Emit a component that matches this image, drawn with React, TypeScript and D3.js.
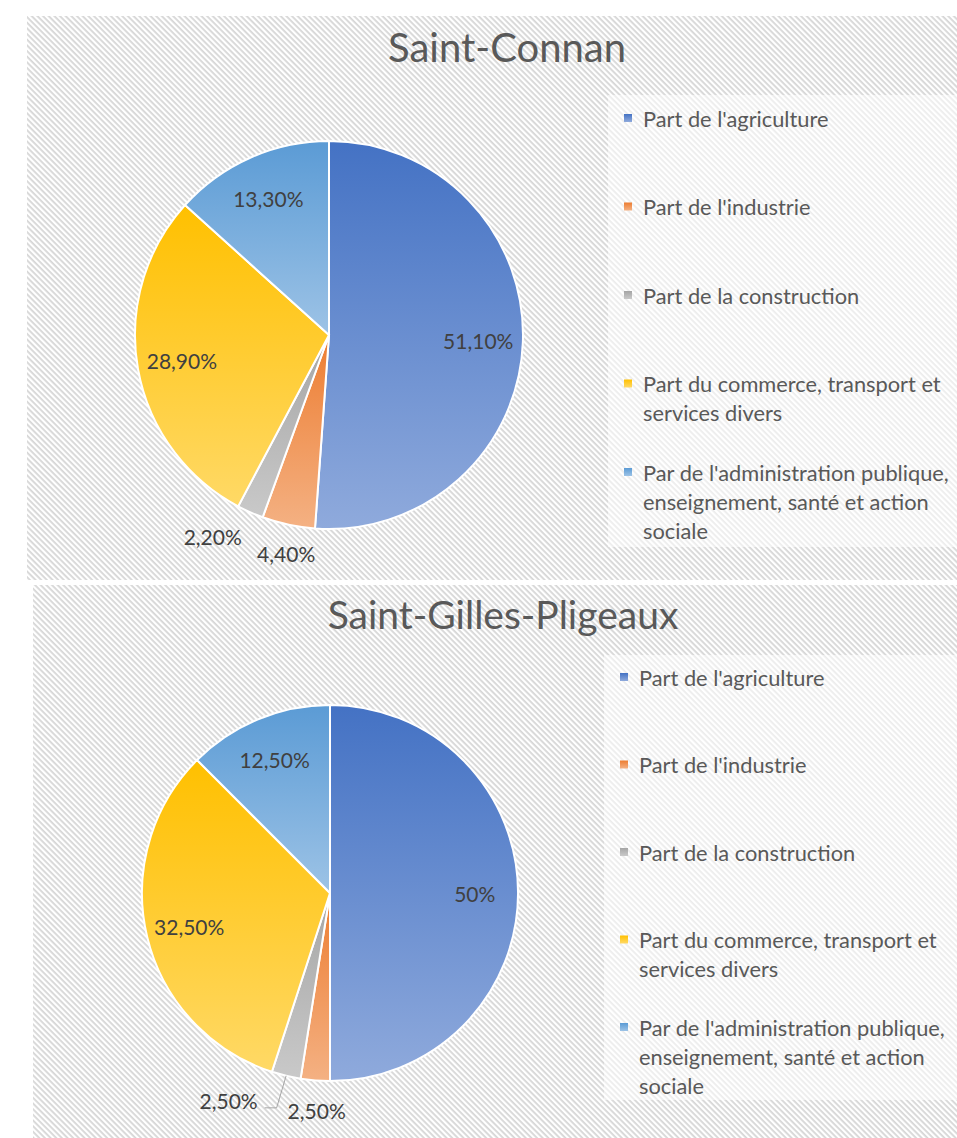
import React from "react";
import * as d3 from "d3";

// categories shared by both charts
const categories = [
  "Part de l'agriculture",
  "Part de l'industrie",
  "Part de la construction",
  "Part du commerce, transport et services divers",
  "Par de l'administration publique, enseignement, santé et action sociale",
];
// legend wrapping, as in the original
const legendLines = [
  ["Part de l'agriculture"],
  ["Part de l'industrie"],
  ["Part de la construction"],
  ["Part du commerce, transport et", "services divers"],
  ["Par de l'administration publique,", "enseignement, santé et action", "sociale"],
];

const saintConnanValues = [51.1, 4.4, 2.2, 28.9, 13.3];
const saintGillesValues = [50, 2.5, 2.5, 32.5, 12.5];

const topColors = ["#4472C4", "#ED7D31", "#A5A5A5", "#FFC000", "#5B9BD5"];
const bottomColors = ["#8FAADC", "#F4B183", "#C9C9C9", "#FFD966", "#9DC3E6"];

const FONT = "Lato, 'Open Sans', sans-serif";

const fmt = (v) =>
  Number.isInteger(v) ? `${v}%` : `${v.toFixed(2).replace(".", ",")}%`;

const PieChart = ({ title, values, box, pie, titleY, titleSize, legend, outside }) => {
  const arcs = d3
    .pie()
    .value((d) => d)
    .sort(null)(values);
  const arc = d3.arc().innerRadius(0).outerRadius(pie.r);

  const pos = (angle, r) => [
    pie.cx + r * Math.sin(angle),
    pie.cy - r * Math.cos(angle),
  ];

  return (
    <g>
      <rect x={box.x} y={box.y} width={box.w} height={box.h} fill="url(#hatch)" />
      <rect
        x={legend.x - 16}
        y={legend.boxY}
        width={box.x + box.w - legend.x + 16}
        height={legend.boxH}
        fill="#fff"
        opacity={0.55}
      />
      <text
        x={box.titleX}
        y={titleY}
        textAnchor="middle"
        fontFamily={FONT}
        fontSize={titleSize}
        fill="#595959"
      >
        {title}
      </text>

      <g transform={`translate(${pie.cx},${pie.cy})`}>
        {arcs.map((a, i) => (
          <path
            key={i}
            d={arc(a)}
            fill={`url(#grad${i})`}
            stroke="#fff"
            strokeWidth={2}
          />
        ))}
      </g>

      {arcs.map((a, i) => {
        const mid = (a.startAngle + a.endAngle) / 2;
        const o = outside[i];
        if (!o) {
          const [x, y] = pos(mid, pie.r * 0.77);
          return (
            <text
              key={i}
              x={x}
              y={y}
              textAnchor="middle"
              dominantBaseline="central"
              fontFamily={FONT}
              fontSize={21}
              fill="#404040"
            >
              {fmt(values[i])}
            </text>
          );
        }
        const [x, y] = pos(mid + (o.shift * Math.PI) / 180, pie.r * o.k);
        let leader = null;
        if (o.leader) {
          const [ex, ey] = pos(mid, pie.r);
          const rx = x + 36;
          leader = (
            <polyline
              points={`${ex},${ey} ${rx + 12},${y + 7} ${rx},${y + 7}`}
              fill="none"
              stroke="#a6a6a6"
              strokeWidth={1}
            />
          );
        }
        return (
          <g key={i}>
            {leader}
            <text
              x={x}
              y={y}
              textAnchor="middle"
              dominantBaseline="central"
              fontFamily={FONT}
              fontSize={21}
              fill="#404040"
            >
              {fmt(values[i])}
            </text>
          </g>
        );
      })}

      {legendLines.map((lines, i) => {
        const y = legend.y + i * legend.step;
        return (
          <g key={i}>
            <rect x={legend.x} y={y - 4} width={8} height={8} fill={`url(#grad${i})`} />
            <text fontFamily={FONT} fontSize={21.8} fill="#595959">
              {lines.map((l, j) => (
                <tspan
                  key={j}
                  x={legend.x + 19}
                  y={y + j * 29}
                  dominantBaseline="central"
                >
                  {l}
                </tspan>
              ))}
            </text>
          </g>
        );
      })}
    </g>
  );
};

export default function App() {
  return (
    <svg
      width={957}
      height={1138}
      style={{ position: "absolute", left: 0, top: 0, background: "#fff" }}
    >
      <defs>
        <pattern
          id="hatch"
          width={4}
          height={4}
          patternUnits="userSpaceOnUse"
          patternTransform="rotate(45)"
        >
          <rect width={4} height={4} fill="#fff" />
          <rect width={4} height={1.8} fill="#d6d6d6" />
        </pattern>
        {topColors.map((c, i) => (
          <linearGradient key={i} id={`grad${i}`} x1="0" y1="0" x2="0" y2="1">
            <stop offset="0%" stopColor={c} />
            <stop offset="100%" stopColor={bottomColors[i]} />
          </linearGradient>
        ))}
      </defs>

      <PieChart
        title="Saint-Connan"
        values={saintConnanValues}
        box={{ x: 27, y: 16, w: 930, h: 564, titleX: 507 }}
        titleY={62}
        titleSize={40}
        pie={{ cx: 329, cy: 335, r: 194 }}
        legend={{ x: 624, y: 118, step: 88.5, boxY: 95, boxH: 452 }}
        outside={[null, { k: 1.15, shift: -1 }, { k: 1.2, shift: 6 }, null, null]}
      />
      <PieChart
        title="Saint-Gilles-Pligeaux"
        values={saintGillesValues}
        box={{ x: 33, y: 585, w: 924, h: 553, titleX: 503 }}
        titleY={629}
        titleSize={39}
        pie={{ cx: 330, cy: 893, r: 188 }}
        legend={{ x: 620, y: 677, step: 87.5, boxY: 655, boxH: 445 }}
        outside={[null, { k: 1.16, shift: -1 }, { k: 1.23, shift: 12.5, leader: true }, null, null]}
      />
    </svg>
  );
}
